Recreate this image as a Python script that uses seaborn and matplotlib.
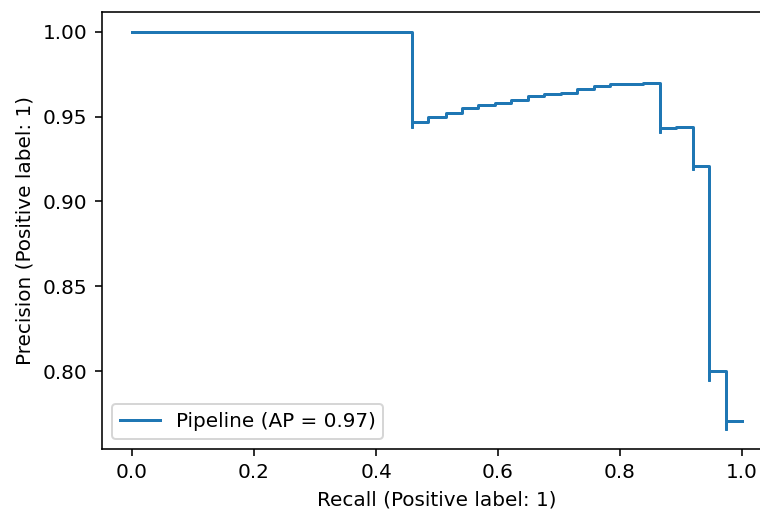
import numpy as np
import pandas as pd
import matplotlib
matplotlib.use("Agg")
import matplotlib.pyplot as plt
import seaborn as sns

# Precision-recall points (sklearn order: recall decreasing)
recall = [1.000, 0.973, 0.973, 0.946, 0.946, 0.919, 0.919, 0.892, 0.865, 0.865,
          0.838, 0.811, 0.784, 0.757, 0.730, 0.703, 0.676, 0.649, 0.622, 0.595,
          0.568, 0.541, 0.514, 0.486, 0.459, 0.459, 0.000]
precision = [0.771, 0.766, 0.800, 0.795, 0.921, 0.919, 0.944, 0.943, 0.941, 0.970,
             0.969, 0.969, 0.968, 0.966, 0.964, 0.963, 0.962, 0.960, 0.958, 0.957,
             0.955, 0.952, 0.950, 0.947, 0.944, 1.000, 1.000]
label = "Pipeline (AP = 0.97)"

df = pd.DataFrame({"recall": recall, "precision": precision})

fig = plt.figure(figsize=(760 / 144, 511 / 144), dpi=144)
ax = fig.add_axes([101.5 / 760, 62 / 511, 671 / 760, 437.3 / 511])

sns.lineplot(data=df, x="recall", y="precision", ax=ax, sort=False,
             estimator=None, drawstyle="steps-post", color="#1f77b4",
             linewidth=1.5, label=label)

ax.spines["right"].set_visible(False)
ax.set_xlabel("Recall (Positive label: 1)")
ax.set_ylabel("Precision (Positive label: 1)")
ax.legend(loc="lower left")

fig.savefig("out.png", dpi=144)
